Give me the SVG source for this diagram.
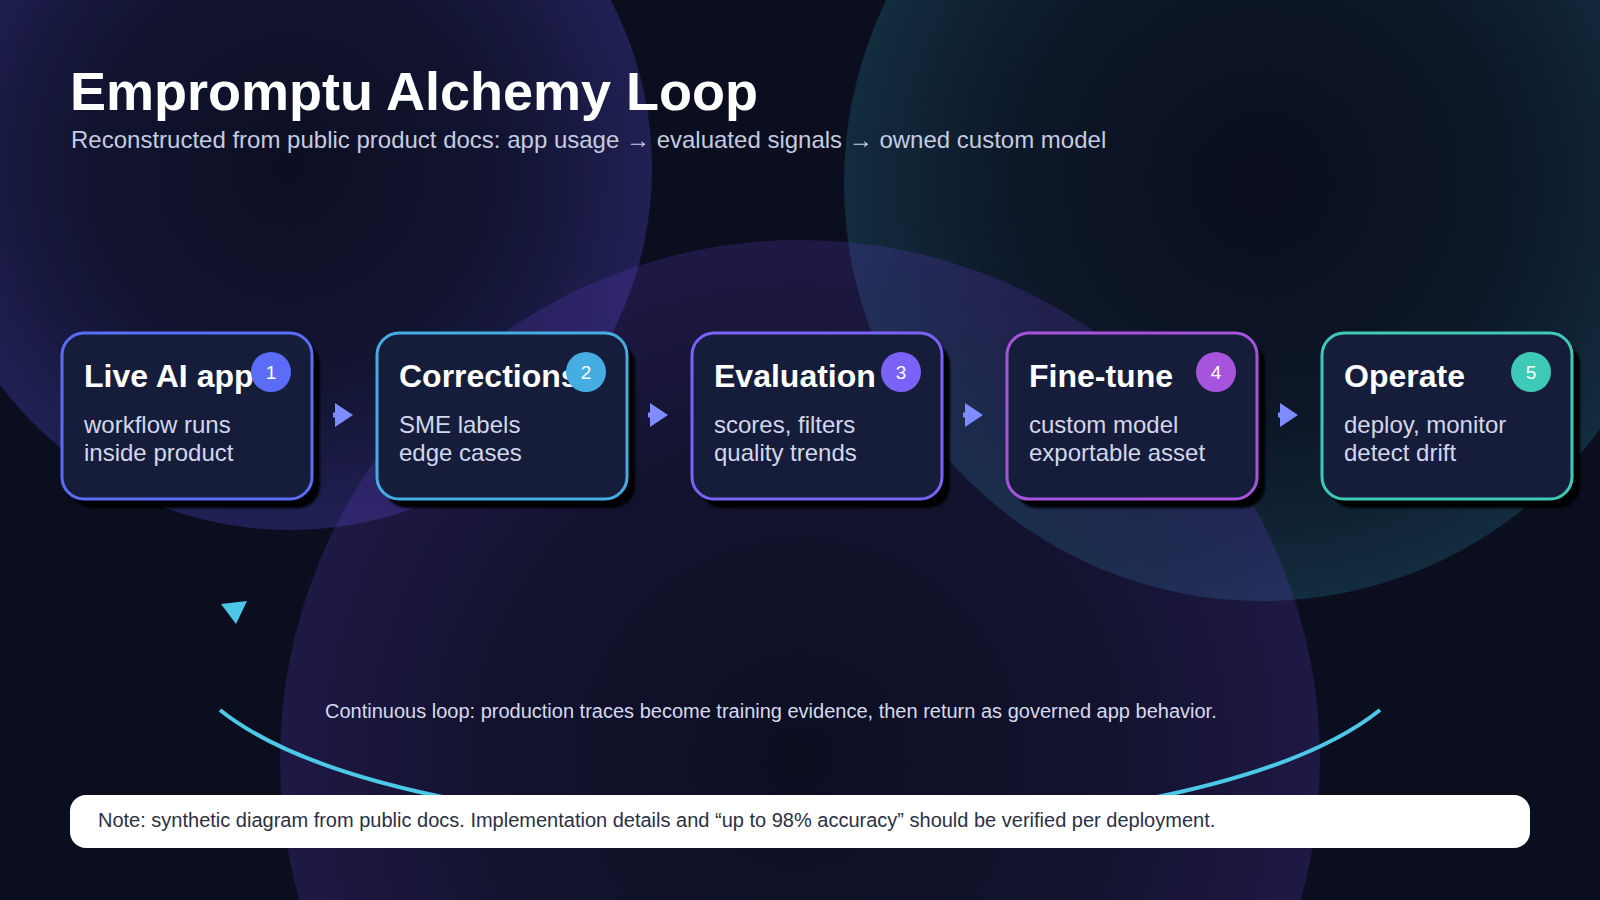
<svg xmlns="http://www.w3.org/2000/svg" width="1600" height="900" viewBox="0 0 1600 900">
  <style>
    .title { font-family: "Liberation Sans", Arial, sans-serif; font-weight: 700; font-size: 54px; fill: #ffffff; }
    .subtitle { font-family: "Liberation Sans", Arial, sans-serif; font-size: 24px; fill: #c5cbe0; }
    .box { fill: #161d3b; stroke-width: 3; }
    .shadow { fill: #000000; opacity: 0.95; }
    .ntitle { font-family: "Liberation Sans", Arial, sans-serif; font-weight: 700; font-size: 32px; fill: #ffffff; }
    .nsub { font-family: "Liberation Sans", Arial, sans-serif; font-size: 24px; fill: #d2d7ec; }
    .badge-num { font-family: "Liberation Sans", Arial, sans-serif; font-size: 19px; fill: #ffffff; text-anchor: middle; }
    .conn { stroke: #7f8cff; stroke-width: 5; fill: none; }
    .loop { stroke: #4cc9e8; stroke-width: 4; fill: none; }
    .looptext { font-family: "Liberation Sans", Arial, sans-serif; font-size: 20px; fill: #d6daf0; }
    .notetext { font-family: "Liberation Sans", Arial, sans-serif; font-size: 20px; fill: #2b3045; }
  </style>
  <defs>
    <radialGradient id="gBlue" cx="0.5" cy="0.5" r="0.5">
      <stop offset="0" stop-color="#5a4ee0" stop-opacity="0.02"/>
      <stop offset="0.6" stop-color="#5a4ee0" stop-opacity="0.1"/>
      <stop offset="1" stop-color="#5a4ee0" stop-opacity="0.28"/>
    </radialGradient>
    <radialGradient id="gTeal" cx="0.5" cy="0.5" r="0.5">
      <stop offset="0" stop-color="#2f95b0" stop-opacity="0.0"/>
      <stop offset="0.6" stop-color="#2f95b0" stop-opacity="0.07"/>
      <stop offset="1" stop-color="#2f95b0" stop-opacity="0.22"/>
    </radialGradient>
    <radialGradient id="gPurple" cx="0.5" cy="0.5" r="0.5">
      <stop offset="0" stop-color="#6a3fd0" stop-opacity="0.02"/>
      <stop offset="0.6" stop-color="#6a3fd0" stop-opacity="0.09"/>
      <stop offset="1" stop-color="#6a3fd0" stop-opacity="0.22"/>
    </radialGradient>
    <filter id="blur" x="-10%" y="-10%" width="120%" height="120%">
      <feGaussianBlur stdDeviation="0.8"/>
    </filter>
    <marker id="arrow" viewBox="0 0 18 24" markerWidth="18" markerHeight="24" refX="0" refY="12" markerUnits="userSpaceOnUse" orient="auto">
      <path d="M0,0 L18,12 L0,24 Z" fill="#7f8cff"/>
    </marker>
  </defs>

  <!-- background -->
  <rect x="0" y="0" width="1600" height="900" fill="#0a0e1e"/>
  <circle cx="290" cy="168" r="362" fill="url(#gBlue)"/>
  <circle cx="1262" cy="183" r="418" fill="url(#gTeal)"/>
  <circle cx="800" cy="760" r="520" fill="url(#gPurple)"/>

  <!-- header -->
  <text class="title" x="70" y="110">Empromptu Alchemy Loop</text>
  <text class="subtitle" x="71" y="148">Reconstructed from public product docs: app usage → evaluated signals → owned custom model</text>

  <!-- connectors -->
  <g id="connectors">
    <line class="conn" x1="333" y1="415" x2="335" y2="415" marker-end="url(#arrow)"/>
    <line class="conn" x1="648" y1="415" x2="650" y2="415" marker-end="url(#arrow)"/>
    <line class="conn" x1="963" y1="415" x2="965" y2="415" marker-end="url(#arrow)"/>
    <line class="conn" x1="1278" y1="415" x2="1280" y2="415" marker-end="url(#arrow)"/>
    <path class="loop" d="M 220 710 C 420 870 1180 870 1380 710"/>
    <path d="M221,604 L247,601 L236,624 Z" fill="#4cc8e6"/>
  </g>

  <text class="looptext" x="325" y="718">Continuous loop: production traces become training evidence, then return as governed app behavior.</text>

  <!-- nodes -->
  <g id="node1">
    <rect class="shadow" x="70" y="342" width="250" height="166" rx="22" filter="url(#blur)"/>
    <rect class="box" x="62" y="333" width="250" height="166" rx="22" stroke="#5b6cf6"/>
    <text class="ntitle" x="84" y="387">Live AI app</text>
    <circle cx="271" cy="372" r="20" fill="#5b6cf6"/>
    <text class="badge-num" x="271" y="379">1</text>
    <text class="nsub" x="84" y="433">workflow runs</text>
    <text class="nsub" x="84" y="461">inside product</text>
  </g>
  <g id="node2">
    <rect class="shadow" x="385" y="342" width="250" height="166" rx="22" filter="url(#blur)"/>
    <rect class="box" x="377" y="333" width="250" height="166" rx="22" stroke="#46ade2"/>
    <text class="ntitle" x="399" y="387">Corrections</text>
    <circle cx="586" cy="372" r="20" fill="#46ade2"/>
    <text class="badge-num" x="586" y="379">2</text>
    <text class="nsub" x="399" y="433">SME labels</text>
    <text class="nsub" x="399" y="461">edge cases</text>
  </g>
  <g id="node3">
    <rect class="shadow" x="700" y="342" width="250" height="166" rx="22" filter="url(#blur)"/>
    <rect class="box" x="692" y="333" width="250" height="166" rx="22" stroke="#7a62f6"/>
    <text class="ntitle" x="714" y="387">Evaluation</text>
    <circle cx="901" cy="372" r="20" fill="#7a62f6"/>
    <text class="badge-num" x="901" y="379">3</text>
    <text class="nsub" x="714" y="433">scores, filters</text>
    <text class="nsub" x="714" y="461">quality trends</text>
  </g>
  <g id="node4">
    <rect class="shadow" x="1015" y="342" width="250" height="166" rx="22" filter="url(#blur)"/>
    <rect class="box" x="1007" y="333" width="250" height="166" rx="22" stroke="#a654dc"/>
    <text class="ntitle" x="1029" y="387">Fine-tune</text>
    <circle cx="1216" cy="372" r="20" fill="#a654dc"/>
    <text class="badge-num" x="1216" y="379">4</text>
    <text class="nsub" x="1029" y="433">custom model</text>
    <text class="nsub" x="1029" y="461">exportable asset</text>
  </g>
  <g id="node5">
    <rect class="shadow" x="1330" y="342" width="250" height="166" rx="22" filter="url(#blur)"/>
    <rect class="box" x="1322" y="333" width="250" height="166" rx="22" stroke="#3ecab6"/>
    <text class="ntitle" x="1344" y="387">Operate</text>
    <circle cx="1531" cy="372" r="20" fill="#3ecab6"/>
    <text class="badge-num" x="1531" y="379">5</text>
    <text class="nsub" x="1344" y="433">deploy, monitor</text>
    <text class="nsub" x="1344" y="461">detect drift</text>
  </g>

  <!-- note -->
  <g id="note">
    <rect x="70" y="795" width="1460" height="53" rx="16" fill="#ffffff"/>
    <text class="notetext" x="98" y="827">Note: synthetic diagram from public docs. Implementation details and “up to 98% accuracy” should be verified per deployment.</text>
  </g>
</svg>
